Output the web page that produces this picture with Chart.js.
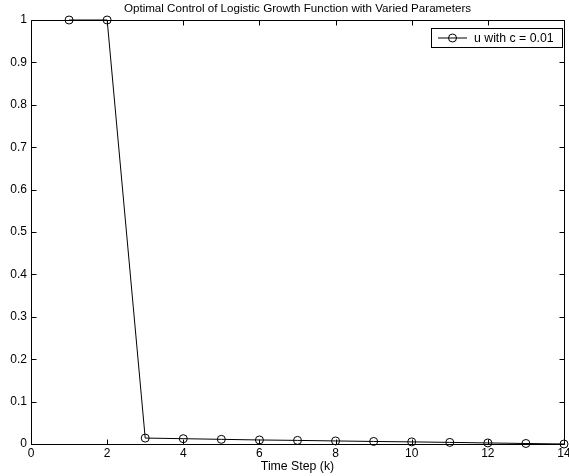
<!DOCTYPE html>
<html>
<head>
<meta charset="utf-8">
<script src="https://cdn.jsdelivr.net/npm/chart.js@4/dist/chart.umd.min.js"></script>
<style>
html,body{margin:0;padding:0;background:#fff;}
#wrap{width:569px;height:476px;position:relative;}
</style>
</head>
<body>
<div id="wrap"><canvas id="c" width="569" height="476"></canvas></div>
<script>
const timeSteps = [1,2,3,4,5,6,7,8,9,10,11,12,13,14];
const uValues = [1,1,0.014,0.0125,0.011,0.0095,0.0085,0.0072,0.006,0.005,0.0038,0.0025,0.0012,0];
const seriesLabel = 'u with c = 0.01';
const chartTitle = 'Optimal Control of Logistic Growth Function with Varied Parameters';
const xAxisTitle = 'Time Step (k)';
const xTicks = [0,2,4,6,8,10,12,14];
const yTicks = [0,0.1,0.2,0.3,0.4,0.5,0.6,0.7,0.8,0.9,1];

const FONT = 'Helvetica, "Liberation Sans", Arial, sans-serif';

const framePlugin = {
  id: 'frame',
  afterDatasetsDraw(chart) {
    const ctx = chart.ctx, a = chart.chartArea;
    const xs = chart.scales.x, ys = chart.scales.y;
    ctx.save();
    ctx.strokeStyle = '#000';
    ctx.lineWidth = 1;
    ctx.beginPath();
    const L = Math.round(a.left)+0.5, R = Math.round(a.right)+0.5, T = Math.round(a.top)+0.5, B = Math.round(a.bottom)+0.5;
    ctx.rect(L, T, R-L, B-T);
    const tl = 5;
    xTicks.forEach(v => {
      const px = Math.round(xs.getPixelForValue(v)) + 0.5;
      ctx.moveTo(px, B); ctx.lineTo(px, B - tl);
      ctx.moveTo(px, T); ctx.lineTo(px, T + tl);
    });
    yTicks.forEach(v => {
      const py = Math.round(ys.getPixelForValue(v)) + 0.5;
      ctx.moveTo(L, py); ctx.lineTo(L + tl, py);
      ctx.moveTo(R, py); ctx.lineTo(R - tl, py);
    });
    ctx.stroke();
    ctx.fillStyle = '#000';
    ctx.textAlign = 'center';
    ctx.textBaseline = 'middle';
    ctx.font = '11.6px ' + FONT;
    ctx.fillText(chartTitle, (a.left + a.right) / 2, 9);
    ctx.font = '12.3px ' + FONT;
    ctx.fillText(xAxisTitle, (a.left + a.right) / 2, 467);
    const lx = 431.5, ly = 28.5, lw = 131, lh = 19;
    ctx.fillStyle = '#fff';
    ctx.fillRect(lx, ly, lw, lh);
    ctx.strokeRect(lx, ly, lw, lh);
    const my = ly + lh/2;
    ctx.beginPath();
    ctx.moveTo(438, my); ctx.lineTo(467, my);
    ctx.stroke();
    ctx.beginPath();
    ctx.arc(452.5, my, 4, 0, Math.PI*2);
    ctx.stroke();
    ctx.fillStyle = '#000';
    ctx.textAlign = 'left';
    ctx.fillText(chart.data.datasets[0].label, 474, my + 0.5);
    ctx.restore();
  }
};

new Chart(document.getElementById('c'), {
  type: 'line',
  data: {
    datasets: [{
      label: seriesLabel,
      data: timeSteps.map((t, i) => ({x: t, y: uValues[i]})),
      borderColor: '#000',
      borderWidth: 1,
      pointRadius: 4,
      pointBorderWidth: 1,
      pointBorderColor: '#000',
      pointBackgroundColor: 'rgba(0,0,0,0)',
      tension: 0,
      clip: false,
      fill: false
    }]
  },
  options: {
    responsive: false,
    animation: false,
    devicePixelRatio: 1,
    layout: { padding: { top: 20, right: 1, left: 0, bottom: 0 } },
    plugins: { legend: { display: false }, title: { display: false }, tooltip: { enabled: false } },
    scales: {
      x: {
        type: 'linear', min: 0, max: 14,
        afterBuildTicks: s => { s.ticks = xTicks.map(v => ({value: v})); },
        afterFit: s => { s.height = 32; s.paddingLeft = 0; s.paddingRight = 0; },
        grid: { display: false, drawTicks: false },
        border: { display: false },
        ticks: { color: '#000', padding: 2, font: { size: 12, family: FONT }, maxRotation: 0, autoSkip: false }
      },
      y: {
        type: 'linear', min: 0, max: 1,
        afterBuildTicks: s => { s.ticks = yTicks.map(v => ({value: v})); },
        afterFit: s => { s.width = 31; s.paddingTop = 0; s.paddingBottom = 0; },
        grid: { display: false, drawTicks: false },
        border: { display: false },
        ticks: { color: '#000', padding: 4, font: { size: 12, family: FONT }, autoSkip: false,
          callback: v => String(Math.round(v*10)/10) }
      }
    }
  },
  plugins: [framePlugin]
});
</script>
</body>
</html>
